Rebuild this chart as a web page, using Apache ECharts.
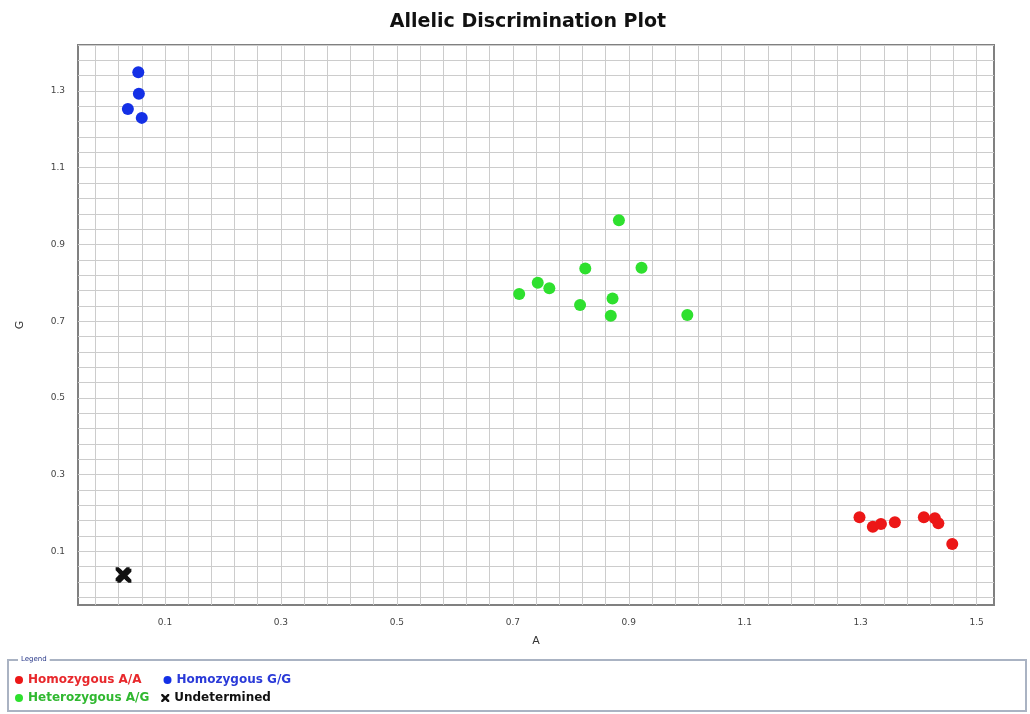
<!DOCTYPE html>
<html>
<head>
<meta charset="utf-8">
<script src="https://cdn.jsdelivr.net/npm/echarts@6/dist/echarts.min.js"></script>
<style>
html,body{margin:0;padding:0;background:#fff;}
#chart{width:1030px;height:714px;}
</style>
</head>
<body>
<div id="chart"></div>
<script>
// ---- Data ----
const seriesNames = ['Homozygous A/A', 'Homozygous G/G', 'Heterozygous A/G', 'Undetermined'];

const homAA_A = [1.298, 1.321, 1.335, 1.359, 1.409, 1.428, 1.434, 1.458];
const homAA_G = [0.189, 0.164, 0.171, 0.176, 0.189, 0.186, 0.173, 0.119];

const homGG_A = [0.054, 0.055, 0.036, 0.060];
const homGG_G = [1.349, 1.293, 1.253, 1.230];

const het_A = [0.883, 0.825, 0.922, 0.743, 0.763, 0.711, 0.816, 0.872, 0.869, 1.001];
const het_G = [0.963, 0.837, 0.839, 0.800, 0.786, 0.771, 0.742, 0.759, 0.714, 0.716];

const und_A = [0.027, 0.030];
const und_G = [0.040, 0.036];

const xTickLabels = ['0.1', '0.3', '0.5', '0.7', '0.9', '1.1', '1.3', '1.5'];
const yTickLabels = ['0.1', '0.3', '0.5', '0.7', '0.9', '1.1', '1.3'];

// ---- Styling ----
const colors = ['#ec1717', '#1430e6', '#2ee02e', '#111111'];
const textColors = ['#e8282c', '#2a3ad8', '#30b830', '#111111'];
const xIcon = 'path://M0,0 L3,0 L7,4 L11,0 L14,0 L14,3 L10,7 L14,11 L14,14 L11,14 L7,10 L3,14 L0,14 L0,11 L4,7 L0,3 Z';

function zip(a, b) { return a.map((v, i) => [v, b[i]]); }
function labelFmt(list) {
  return function (v) {
    const s = v.toFixed(1);
    return (Math.abs(v - Number(s)) < 1e-6 && list.indexOf(s) >= 0) ? s : '';
  };
}
const T = 'rgba(0,0,0,0)', G = '#cccccc';

const chart = echarts.init(document.getElementById('chart'), null, {renderer: 'canvas'});
chart.setOption({
  animation: false,
  backgroundColor: '#ffffff',
  title: {
    text: 'Allelic Discrimination Plot',
    left: 523, top: 8, textAlign: 'center',
    textStyle: {fontFamily: 'DejaVu Sans', fontWeight: 'bold', fontSize: 19, color: '#111'}
  },
  grid: {
    left: 78, right: 36, top: 45, bottom: 109,
    show: true, borderColor: '#808080', borderWidth: 2, backgroundColor: '#fff'
  },
  xAxis: {
    type: 'value', min: -0.05, max: 1.53, interval: 0.01,
    name: 'A', nameLocation: 'middle', nameGap: 31,
    nameTextStyle: {fontFamily: 'DejaVu Sans', fontSize: 11, color: '#333'},
    axisLine: {show: false}, axisTick: {show: false},
    axisLabel: {formatter: labelFmt(xTickLabels), margin: 13, fontFamily: 'DejaVu Sans', fontSize: 9, color: '#444', showMinLabel: true, showMaxLabel: true},
    splitLine: {show: true, lineStyle: {width: 1, color: [T, T, T, G]}}
  },
  yAxis: {
    type: 'value', min: -0.04, max: 1.42, interval: 0.01,
    name: 'G', nameLocation: 'middle', nameGap: 52, nameRotate: 90,
    nameTextStyle: {fontFamily: 'DejaVu Sans', fontSize: 11, color: '#333'},
    axisLine: {show: false}, axisTick: {show: false},
    axisLabel: {formatter: labelFmt(yTickLabels), margin: 13, fontFamily: 'DejaVu Sans', fontSize: 9, color: '#444'},
    splitLine: {show: true, lineStyle: {width: 1, color: [T, T, G, T]}}
  },
  legend: [
    {
      data: [
        {name: seriesNames[0], icon: 'circle', textStyle: {color: textColors[0]}},
        {name: seriesNames[1], icon: 'circle', textStyle: {color: textColors[1]}}
      ],
      left: 15, top: 674, itemWidth: 8, itemHeight: 8, itemGap: 22, padding: 0,
      textStyle: {fontFamily: 'DejaVu Sans', fontWeight: 'bold', fontSize: 12}
    },
    {
      data: [
        {name: seriesNames[2], icon: 'circle', textStyle: {color: textColors[2]}},
        {name: seriesNames[3], icon: xIcon, textStyle: {color: textColors[3]}}
      ],
      left: 15, top: 692, itemWidth: 8, itemHeight: 8, itemGap: 12, padding: 0,
      textStyle: {fontFamily: 'DejaVu Sans', fontWeight: 'bold', fontSize: 12}
    }
  ],
  graphic: [
    {type: 'rect', shape: {x: 8, y: 660, width: 1018, height: 51},
     style: {fill: 'none', stroke: '#aab3c3', lineWidth: 2}, silent: true, z: -1},
    {type: 'text', x: 18, y: 656,
     style: {text: 'Legend', fill: '#2a3a8a', font: '7px DejaVu Sans', backgroundColor: '#fff', padding: [0, 3, 0, 3]}, z: 1}
  ],
  series: [
    {name: seriesNames[0], type: 'scatter', data: zip(homAA_A, homAA_G), symbolSize: 12, itemStyle: {color: colors[0], opacity: 1}},
    {name: seriesNames[1], type: 'scatter', data: zip(homGG_A, homGG_G), symbolSize: 12, itemStyle: {color: colors[1], opacity: 1}},
    {name: seriesNames[2], type: 'scatter', data: zip(het_A, het_G), symbolSize: 12, itemStyle: {color: colors[2], opacity: 1}},
    {name: seriesNames[3], type: 'scatter', data: zip(und_A, und_G), symbol: xIcon, symbolSize: 14, itemStyle: {color: colors[3], opacity: 1}}
  ]
});
</script>
</body>
</html>
